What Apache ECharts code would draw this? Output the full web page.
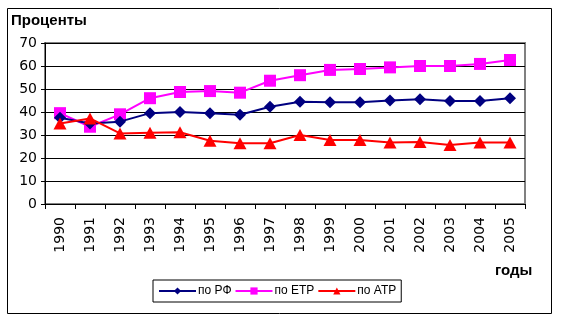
<!DOCTYPE html>
<html><head><meta charset="utf-8">
<script src="https://cdn.jsdelivr.net/npm/echarts@6/dist/echarts.min.js"></script>
<style>html,body{margin:0;padding:0;background:#fff}#c{width:562px;height:323px}</style>
</head><body><div id="c"></div>
<script>
const years = ['1990','1991','1992','1993','1994','1995','1996','1997','1998','1999','2000','2001','2002','2003','2004','2005'];
const rf  = [37.5, 35, 35.8, 39.5, 40, 39.5, 38.8, 42.3, 44.5, 44.2, 44.2, 45, 45.5, 44.8, 44.8, 46];
const etr = [39.5, 33.6, 39, 46, 48.7, 49.1, 48.4, 53.6, 56, 58.3, 58.7, 59.4, 60, 60, 60.9, 62.6];
const atr = [35, 37.2, 30.7, 31, 31.2, 27.5, 26.4, 26.4, 30, 27.8, 27.8, 26.7, 27, 25.7, 26.7, 26.7];
const names = ['по РФ', 'по ЕТР', 'по АТР'];
const yTicks = {min: 0, max: 70, interval: 10};

const font = 'Liberation Sans, Arial, sans-serif';
const axisFont = 'DejaVu Sans, sans-serif';
const chart = echarts.init(document.getElementById('c'), null, {renderer: 'canvas'});
chart.setOption({
  animation: false,
  backgroundColor: '#fff',
  grid: {left: 45, right: 37, top: 43, bottom: 119, show: true, borderColor: '#808080', borderWidth: 2, backgroundColor: 'transparent'},
  graphic: [
    {type: 'rect', shape: {x: 7.5, y: 8.5, width: 544, height: 305}, style: {fill: 'none', stroke: '#000', lineWidth: 1}, z: -1},
    {type: 'text', left: 11, top: 13, style: {text: 'Проценты', font: 'bold 15px ' + font, fill: '#000'}},
    {type: 'text', left: 495, top: 263, style: {text: 'годы', font: 'bold 15px ' + font, fill: '#000'}}
  ],
  legend: {
    data: names, left: 153, top: 280, orient: 'horizontal',
    borderColor: '#000', borderWidth: 1, padding: [5, 5],
    itemWidth: 37, itemHeight: 9, itemGap: 3,
    textStyle: {fontFamily: font, fontSize: 12, color: '#000', padding: [0, 0, 0, -3]}
  },
  xAxis: {
    type: 'category', data: years, boundaryGap: true,
    axisLine: {lineStyle: {color: '#000', width: 1}},
    axisTick: {show: true, length: 5, lineStyle: {color: '#000'}},
    axisLabel: {rotate: 90, margin: 13, fontFamily: axisFont, fontSize: 14, color: '#000', interval: 0},
    splitLine: {show: false}
  },
  yAxis: {
    type: 'value', min: yTicks.min, max: yTicks.max, interval: yTicks.interval,
    axisLine: {show: true, lineStyle: {color: '#000', width: 1}},
    axisTick: {show: true, length: 4, lineStyle: {color: '#000'}},
    axisLabel: {margin: 8, fontFamily: axisFont, fontSize: 14, color: '#000'},
    splitLine: {show: true, lineStyle: {color: '#000', width: 1}}
  },
  series: [
    {name: names[0], type: 'line', data: rf, symbol: 'diamond', symbolSize: 12, showAllSymbol: true,
     lineStyle: {color: '#000080', width: 2}, itemStyle: {color: '#000080'}, z: 3},
    {name: names[1], type: 'line', data: etr, symbol: 'rect', symbolSize: 12, showAllSymbol: true,
     lineStyle: {color: '#FF00FF', width: 2}, itemStyle: {color: '#FF00FF'}, z: 2},
    {name: names[2], type: 'line', data: atr, symbol: 'triangle', symbolSize: [13, 12], showAllSymbol: true,
     lineStyle: {color: '#FF0000', width: 2}, itemStyle: {color: '#FF0000'}, z: 4}
  ]
});
</script></body></html>
